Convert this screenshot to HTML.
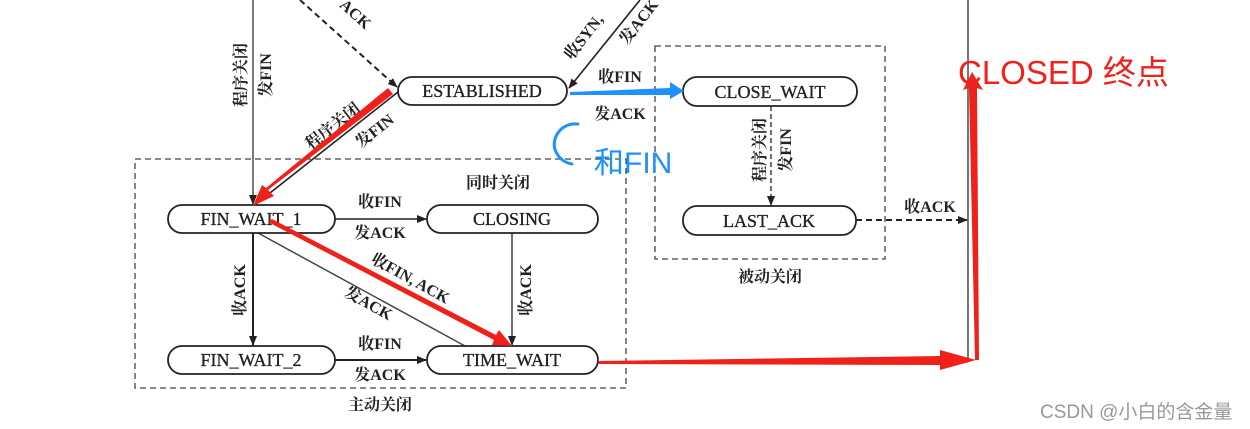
<!DOCTYPE html>
<html><head><meta charset="utf-8"><style>
html,body{margin:0;padding:0;background:#fff;}
svg{display:block;}
.t{font-family:"Liberation Serif","Noto Serif CJK SC",serif;fill:#222;}
.b{font-family:"Liberation Sans","Noto Sans CJK SC",sans-serif;}
</style></head><body>
<svg width="1250" height="429" viewBox="0 0 1250 429" xmlns="http://www.w3.org/2000/svg">
<defs>
<marker id="ah" markerWidth="10" markerHeight="8" refX="9" refY="4" orient="auto" markerUnits="userSpaceOnUse"><path d="M0,0 L10,4 L0,8 Z" fill="#222"/></marker>
</defs>
<line x1="968" y1="0" x2="968" y2="362" stroke="#777" stroke-width="2"/>
<line x1="598" y1="362" x2="968" y2="362" stroke="#777" stroke-width="1.5"/>
<rect x="135" y="159" width="491" height="229" fill="none" stroke="#444" stroke-width="1.3" stroke-dasharray="6,4"/>
<rect x="655" y="46" width="230" height="213" fill="none" stroke="#444" stroke-width="1.3" stroke-dasharray="6,4"/>
<line x1="253" y1="0" x2="253" y2="204" stroke="#333" stroke-width="1.3" marker-end="url(#ah)"/>
<line x1="300" y1="0" x2="397" y2="87" stroke="#222" stroke-width="2" stroke-dasharray="6,4" marker-end="url(#ah)"/>
<line x1="640" y1="0" x2="569" y2="88" stroke="#222" stroke-width="1.6" marker-end="url(#ah)"/>
<line x1="398" y1="92" x2="256" y2="204" stroke="#222" stroke-width="1.6"/>
<line x1="335" y1="219" x2="426" y2="219" stroke="#222" stroke-width="1.6" marker-end="url(#ah)"/>
<line x1="335" y1="360" x2="426" y2="360" stroke="#222" stroke-width="2" marker-end="url(#ah)"/>
<line x1="253" y1="233" x2="253" y2="345" stroke="#222" stroke-width="2" marker-end="url(#ah)"/>
<line x1="512" y1="233" x2="512" y2="345" stroke="#222" stroke-width="1.3" marker-end="url(#ah)"/>
<line x1="258" y1="233" x2="465" y2="346" stroke="#444" stroke-width="1.5"/>
<line x1="771" y1="106" x2="771" y2="205" stroke="#222" stroke-width="1.3" stroke-dasharray="5,3" marker-end="url(#ah)"/>
<line x1="856" y1="220" x2="967" y2="220" stroke="#222" stroke-width="2" stroke-dasharray="6,4" marker-end="url(#ah)"/>
<g fill="#fff" stroke="#222" stroke-width="1.8">
<rect x="398" y="77" width="169" height="28" rx="14"/>
<rect x="683" y="77" width="174" height="29" rx="14"/>
<rect x="168" y="205" width="167" height="28" rx="14"/>
<rect x="427" y="205" width="171" height="28" rx="14"/>
<rect x="683" y="206" width="173" height="29" rx="14"/>
<rect x="168" y="346" width="167" height="28" rx="14"/>
<rect x="427" y="346" width="171" height="28" rx="14"/>
</g>
<g class="t" font-size="18" text-anchor="middle" fill="#111" stroke="#111" stroke-width="0.3">
<text x="482" y="97">ESTABLISHED</text>
<text x="770" y="98">CLOSE_WAIT</text>
<text x="251" y="225">FIN_WAIT_1</text>
<text x="512" y="225">CLOSING</text>
<text x="769" y="227">LAST_ACK</text>
<text x="251" y="366">FIN_WAIT_2</text>
<text x="512" y="366">TIME_WAIT</text>
</g>
<g class="t" font-size="16" font-weight="bold" text-anchor="middle">
<text x="380" y="207">收FIN</text>
<text x="380" y="238">发ACK</text>
<text x="380" y="349">收FIN</text>
<text x="380" y="380">发ACK</text>
<text x="620" y="82">收FIN</text>
<text x="620" y="119">发ACK</text>
<text x="930" y="212">收ACK</text>
<text x="498" y="188">同时关闭</text>
<text x="380" y="410">主动关闭</text>
<text x="770" y="282">被动关闭</text>
<text transform="translate(245,290) rotate(-90)">收ACK</text>
<text transform="translate(531,290) rotate(-90)">收ACK</text>
<text transform="translate(246,75) rotate(-90)">程序关闭</text>
<text transform="translate(271,75) rotate(-90)">发FIN</text>
<text transform="translate(765,150) rotate(-90)">程序关闭</text>
<text transform="translate(791,150) rotate(-90)">发FIN</text>
<text transform="translate(336,130) rotate(-38)">程序关闭</text>
<text transform="translate(378,135) rotate(-38)">发FIN</text>
<text transform="translate(408,283) rotate(29)">收FIN, ACK</text>
<text transform="translate(366,308) rotate(29)">发ACK</text>
<text transform="translate(352,18) rotate(42)">ACK</text>
<text transform="translate(588,40) rotate(-52)">收SYN,</text>
<text transform="translate(643,25) rotate(-52)">发ACK</text>
</g>
<polygon points="388,88 393,94 268,190 274,196 253,206 262,185 266,188" fill="#f0201a"/>
<polygon points="268,222 272,219 496,335 499,330 512,346 492,345 494,340" fill="#f0201a"/>
<polygon points="598,361 940,356 940,350 976,360 940,370 940,365 598,364" fill="#f0201a"/>
<polygon points="975,360 979,360 977,88 983,90 972,72 963,90 969,88" fill="#f0201a"/>
<text class="b" x="958" y="84" font-size="33" fill="#f0201a">CLOSED 终点</text>
<polygon points="570,92 670,88 670,82 684,91 670,99 670,95 570,95" fill="#1e90ff"/>
<path d="M578,124 C560,122 550,140 556,152 C560,160 566,163 572,164" fill="none" stroke="#1e90ff" stroke-width="3" stroke-linecap="round"/>
<text class="b" x="594" y="173" font-size="30" fill="#1e90ff">和FIN</text>
<text class="b" x="1040" y="418" font-size="19" fill="#999">CSDN @小白的含金量</text>
</svg>
</body></html>
